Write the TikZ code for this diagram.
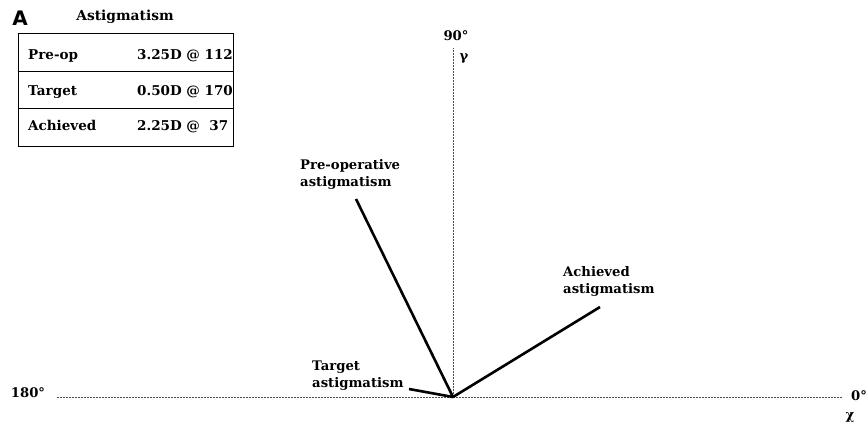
\documentclass[tikz,border=0pt]{standalone}
\usepackage{fontspec}
\setmainfont{DejaVu Serif}
\newfontfamily\bigA{DejaVu Sans}
\begin{document}
\begin{tikzpicture}[x=1pt,y=-1pt,
  lbl/.style={font=\fontsize{13.2}{17}\selectfont\bfseries, inner sep=0pt, align=left},
  cell/.style={font=\fontsize{13.5}{14}\selectfont\bfseries, inner sep=0pt, anchor=base west},
  axis/.style={line width=0.5pt, black!70, dash pattern=on 2pt off 1pt},
  vec/.style={line width=2.6pt, black}]
\useasboundingbox (0,0) rectangle (867,425);
% heading
\node[font=\fontsize{20}{21}\selectfont\bigA\bfseries, inner sep=0pt] (A) at (20,18) {A};
\node[lbl, font=\fontsize{13.8}{14}\selectfont\bfseries] (head) at (125,17) {Astigmatism};
% table
\draw[line width=0.8pt] (18,33) rectangle (233,146);
\draw[line width=0.8pt] (18,71) -- (233,71);
\draw[line width=0.8pt] (18,108) -- (233,108);
\node[cell] (r1a) at (28,60) {Pre-op};
\node[cell] (r1b) at (137,60) {3.25D @ 112};
\node[cell] (r2a) at (28,96) {Target};
\node[cell] (r2b) at (137,96) {0.50D @ 170};
\node[cell] (r3a) at (28,131) {Achieved};
\node[cell] (r3b) at (137,131) {2.25D @ \ 37};
% axes
\coordinate (O) at (453,397);
\coordinate (xl) at (57,397);
\coordinate (xr) at (843,397);
\coordinate (yt) at (453,48);
\draw[axis] (xl) -- (xr);
\draw[axis] (O) -- (yt);
\node[lbl] (n90) at (456,36) {90°};
\node[lbl] (gam) at (464,58) {γ};
\node[lbl] (n180) at (28,393) {180°};
\node[lbl] (n0) at (859,396) {0°};
\node[lbl] (chi) at (850,417) {χ};
% vectors
\coordinate (pre) at (356,199);
\coordinate (ach) at (600,307);
\coordinate (tgt) at (409,389);
\draw[vec] (O) -- (pre);
\draw[vec] (O) -- (ach);
\draw[vec] (O) -- (tgt);
% labels
\node[lbl, anchor=north west] (lpre) at (300,159) {Pre-operative\\astigmatism};
\node[lbl, anchor=north west] (lach) at (563,266) {Achieved\\astigmatism};
\node[lbl, anchor=north west] (ltgt) at (312,361) {Target\\astigmatism};
\end{tikzpicture}
\end{document}
